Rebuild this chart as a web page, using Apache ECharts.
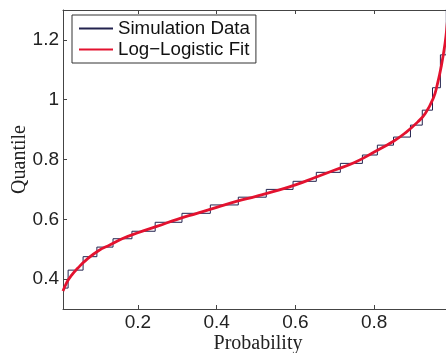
<!DOCTYPE html>
<html>
<head>
<meta charset="utf-8">
<script src="https://cdn.jsdelivr.net/npm/echarts@6/dist/echarts.min.js"></script>
<style>
  html, body { margin: 0; padding: 0; background: #fff; }
  #chart { width: 446px; height: 353px; }
</style>
</head>
<body>
<div id="chart"></div>
<script>
// empirical quantile staircase (jump position, level held until next jump)
const stepProb = [0.01, 0.023, 0.061, 0.096, 0.137, 0.185, 0.244, 0.312, 0.384, 0.455, 0.526,
  0.594, 0.653, 0.714, 0.770, 0.808, 0.849, 0.892, 0.922, 0.948, 0.968, 0.983, 1.0]
const stepQuantile = [0.37, 0.43, 0.475, 0.507, 0.535, 0.56, 0.59, 0.62, 0.648, 0.674, 0.70,
  0.727, 0.757, 0.787, 0.815, 0.848, 0.875, 0.915, 0.965, 1.04, 1.15, 1.4, 1.4]

// fitted log-logistic quantile curve
const fitProb = [0.01, 0.02, 0.03, 0.05, 0.07, 0.10, 0.13, 0.16, 0.20, 0.25, 0.30, 0.35, 0.40,
  0.45, 0.50, 0.55, 0.60, 0.65, 0.70, 0.75, 0.80, 0.85, 0.88, 0.91, 0.93, 0.95, 0.96, 0.97,
  0.98, 0.985, 0.99]
const fitQuantile = [0.36, 0.39, 0.41, 0.44, 0.465, 0.495, 0.515, 0.535, 0.555, 0.577, 0.60,
  0.62, 0.64, 0.66, 0.677, 0.695, 0.715, 0.74, 0.765, 0.79, 0.825, 0.862, 0.89, 0.925, 0.955,
  1.005, 1.05, 1.11, 1.19, 1.25, 1.33]

const xTicks = [0.2, 0.4, 0.6, 0.8]
const yTicks = [0.4, 0.6, 0.8, 1, 1.2]

const chart = echarts.init(document.getElementById('chart'))

const axisColor = '#444'
const tickFont = { fontFamily: 'Liberation Sans', fontSize: 19, color: '#222' }

const option = {
  animation: false,
  backgroundColor: '#fff',
  grid: { left: 63, top: 10, bottom: 44, right: -7, show: false, containLabel: false, outerBoundsMode: 'none' },
  legend: {
    orient: 'vertical',
    left: 72,
    top: 15,
    padding: [4, 6, 4, 6],
    itemGap: 2,
    itemWidth: 34,
    itemHeight: 14,
    borderColor: '#333',
    borderWidth: 1,
    backgroundColor: '#fff',
    itemStyle: { opacity: 0, borderWidth: 0 },
    textStyle: { fontFamily: 'Liberation Sans', fontSize: 18.7, color: '#111', padding: [0, 0, 0, 0] },
    data: ['Simulation Data', 'Log−Logistic Fit']
  },
  xAxis: [{
    type: 'value',
    min: 0.01,
    max: 1,
    position: 'bottom',
    name: 'Probability',
    nameLocation: 'middle',
    nameGap: 25,
    nameMoveOverlap: false,
    nameTextStyle: { fontFamily: 'Liberation Serif', fontSize: 20, color: '#222' },
    axisLine: { show: true, lineStyle: { color: axisColor, width: 1 } },
    axisTick: { show: true, inside: true, length: 4, customValues: xTicks, lineStyle: { color: axisColor } },
    axisLabel: Object.assign({ margin: 4, customValues: xTicks }, tickFont),
    splitLine: { show: false }
  }, {
    type: 'value',
    min: 0.01,
    max: 1,
    position: 'top',
    axisLine: { show: true, onZero: false, lineStyle: { color: axisColor, width: 1 } },
    axisTick: { show: true, inside: true, length: 4, customValues: xTicks, lineStyle: { color: axisColor } },
    axisLabel: { show: false },
    splitLine: { show: false }
  }],
  yAxis: {
    type: 'value',
    min: 0.3,
    max: 1.3,
    name: 'Quantile',
    nameLocation: 'middle',
    nameGap: 33,
    nameMoveOverlap: false,
    nameTextStyle: { fontFamily: 'Liberation Serif', fontSize: 20, color: '#222' },
    axisLine: { show: true, lineStyle: { color: axisColor, width: 1 } },
    axisTick: { show: true, inside: true, length: 4, customValues: yTicks, lineStyle: { color: axisColor } },
    axisLabel: Object.assign({ margin: 4, customValues: yTicks }, tickFont),
    splitLine: { show: false }
  },
  series: [{
    name: 'Simulation Data',
    type: 'line',
    step: 'end',
    symbol: 'none',
    z: 2,
    lineStyle: { color: '#23234f', width: 1 },
    itemStyle: { color: '#23234f' },
    data: stepProb.map((p, i) => [p, stepQuantile[i]])
  }, {
    name: 'Log−Logistic Fit',
    type: 'line',
    smooth: true,
    symbol: 'none',
    z: 3,
    lineStyle: { color: '#e3122f', width: 2.8 },
    itemStyle: { color: '#e3122f' },
    data: fitProb.map((p, i) => [p, fitQuantile[i]])
  }]
}

chart.setOption(option)
</script>
</body>
</html>
